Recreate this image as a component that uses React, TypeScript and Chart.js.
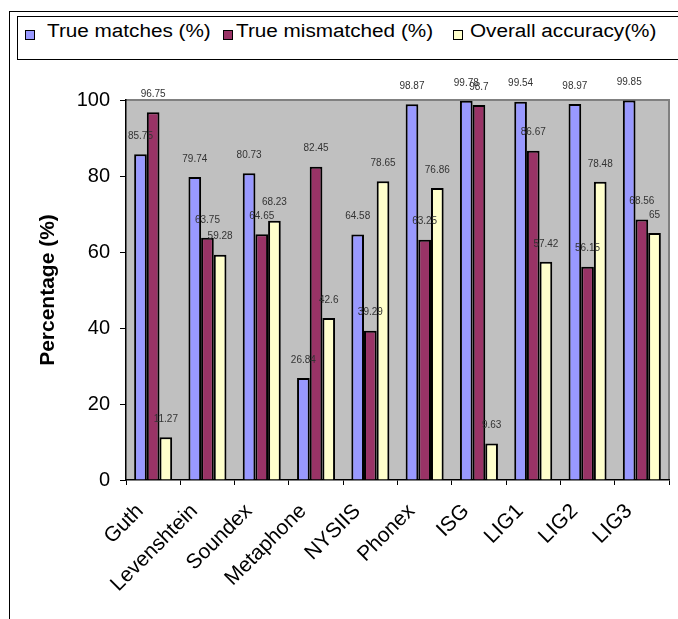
import React, { useEffect, useRef } from "react";
import { Chart, registerables } from "chart.js";

Chart.register(...registerables);

const categories = ["Guth", "Levenshtein", "Soundex", "Metaphone", "NYSIIS", "Phonex", "ISG", "LIG1", "LIG2", "LIG3"];
const trueMatches = [85.75, 79.74, 80.73, 26.84, 64.58, 98.87, 99.78, 99.54, 98.97, 99.85];
const trueMismatched = [96.75, 63.75, 64.65, 82.45, 39.29, 63.25, 98.7, 86.67, 56.15, 68.56];
const overallAccuracy = [11.27, 59.28, 68.23, 42.6, 78.65, 76.86, 9.63, 57.42, 78.48, 65];
const seriesNames = ["True matches (%)", "True mismatched (%)", "Overall accuracy(%)"];
const yTicks = [0, 20, 40, 60, 80, 100];

const FONT = "'Liberation Sans', Arial, sans-serif";
const colors = ["#9999FF", "#993366", "#FFFFCC"];

const plotBg = {
  id: "plotBg",
  beforeDraw(chart: any) {
    const { ctx, chartArea } = chart;
    ctx.save();
    ctx.fillStyle = "#C0C0C0";
    ctx.fillRect(chartArea.left, chartArea.top, chartArea.right - chartArea.left, chartArea.bottom - chartArea.top);
    ctx.strokeStyle = "#808080";
    ctx.lineWidth = 2;
    ctx.beginPath();
    ctx.moveTo(chartArea.left, chartArea.top);
    ctx.lineTo(chartArea.right, chartArea.top);
    ctx.lineTo(chartArea.right, chartArea.bottom);
    ctx.stroke();
    ctx.restore();
  },
};

const valueLabels = {
  id: "valueLabels",
  afterDatasetsDraw(chart: any) {
    const { ctx } = chart;
    ctx.save();
    ctx.font = `10px ${FONT}`;
    ctx.fillStyle = "#333333";
    ctx.textAlign = "center";
    ctx.textBaseline = "middle";
    chart.data.datasets.forEach((ds: any, i: number) => {
      const meta = chart.getDatasetMeta(i);
      meta.data.forEach((el: any, j: number) => {
        ctx.fillText(String(ds.data[j]), el.x, el.y - 18);
      });
    });
    ctx.restore();
  },
};

export default function App() {
  const ref = useRef<HTMLCanvasElement>(null);
  useEffect(() => {
    if (!ref.current) return;
    const data = [trueMatches, trueMismatched, overallAccuracy];
    const chart = new Chart(ref.current, {
      type: "bar",
      data: {
        labels: categories,
        datasets: data.map((d, i) => ({
          label: seriesNames[i],
          data: d,
          backgroundColor: colors[i],
          borderColor: "#000000",
          borderWidth: 2,
          categoryPercentage: 0.7,
          barPercentage: 1.0,
        })),
      },
      options: {
        animation: false,
        responsive: false,
        devicePixelRatio: 1,
        layout: { padding: { top: 100, right: 9, left: 0, bottom: 0 } },
        plugins: { legend: { display: false }, tooltip: { enabled: false } },
        scales: {
          x: {
            grid: { display: true, drawOnChartArea: false, drawTicks: true, tickLength: 5, color: "#000000", offset: true },
            border: { display: true, color: "#000000", width: 1.5 },
            ticks: {
              font: { family: FONT, size: 21 },
              color: "#000000",
              minRotation: 45,
              maxRotation: 45,
              autoSkip: false,
              padding: 14,
              labelOffset: -13,
            },
            afterFit: (s: any) => { s.height = 139; },
          },
          y: {
            min: 0,
            max: 100,
            afterBuildTicks: (s: any) => { s.ticks = yTicks.map((v) => ({ value: v })); },
            grid: { display: true, drawOnChartArea: false, drawTicks: true, tickLength: 6, color: "#000000" },
            border: { display: true, color: "#000000", width: 1.5 },
            ticks: { font: { family: FONT, size: 20 }, color: "#000000", padding: 10 },
            title: {
              display: true,
              text: "Percentage (%)",
              font: { family: FONT, size: 21, weight: "bold" },
              color: "#000000",
              padding: { top: 36, bottom: 0 },
            },
            afterFit: (s: any) => { s.width = 126; },
          },
        },
      },
      plugins: [plotBg, valueLabels],
    });
    return () => chart.destroy();
  }, []);

  const legendItems = [
    { sq: 25, tx: 47 },
    { sq: 223, tx: 236 },
    { sq: 453, tx: 470 },
  ];

  return (
    <div style={{ position: "absolute", left: 0, top: 0, width: 678, height: 619, background: "#fff", overflow: "hidden", fontFamily: FONT }}>
      <canvas ref={ref} width={678} height={619} style={{ position: "absolute", left: 0, top: 0, width: 678, height: 619 }} />
      <div style={{ position: "absolute", left: 9, top: 11, width: 1, height: 620, background: "#000" }} />
      <div style={{ position: "absolute", left: 9, top: 11, width: 680, height: 1, background: "#000" }} />
      <div style={{ position: "absolute", left: 17, top: 16, width: 700, height: 44, border: "1px solid #000", boxSizing: "border-box", background: "#fff" }} />
      {legendItems.map((it, i) => (
        <React.Fragment key={i}>
          <div style={{ position: "absolute", left: it.sq, top: 30, width: 8, height: 8, background: colors[i], border: "1px solid #000" }} />
          <div style={{ position: "absolute", left: it.tx, top: 20, fontSize: 18, lineHeight: "22px", color: "#000", whiteSpace: "nowrap", transform: "scaleX(1.15)", transformOrigin: "left center" }}>{seriesNames[i]}</div>
        </React.Fragment>
      ))}
    </div>
  );
}
